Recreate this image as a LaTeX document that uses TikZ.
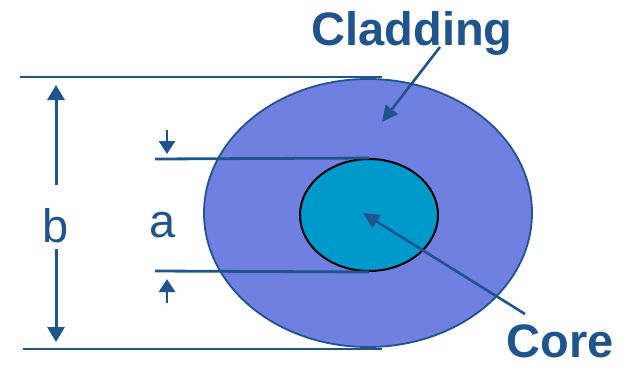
\documentclass[tikz,border=0pt]{standalone}
\usepackage{fontspec}
\setmainfont{Liberation Sans}
\usetikzlibrary{arrows.meta,shapes.geometric}
\definecolor{dblue}{RGB}{31,84,140}
\definecolor{cladfill}{RGB}{111,128,224}
\definecolor{corefill}{RGB}{0,153,204}
\begin{document}
\begin{tikzpicture}[x=0.5pt,y=-0.5pt,
  dimline/.style={draw=dblue, line width=1.4pt},
  bigarrow/.style={draw=dblue, line width=1.5pt, -{Triangle[length=7.5pt,width=8.5pt]}},
  smallarrow/.style={draw=dblue, line width=1.4pt, -{Triangle[length=6.5pt,width=8pt]}},
  callout/.style={draw=dblue, line width=1.3pt, -{Triangle[length=8pt,width=7.5pt]}},
  bigtext/.style={text=dblue, font=\fontsize{23.5pt}{28pt}\selectfont\bfseries, inner sep=0pt, anchor=base},
  dimtext/.style={text=dblue, font=\fontsize{23.5pt}{28pt}\selectfont, inner sep=0pt, anchor=base}]
\useasboundingbox (0,0) rectangle (625,364);
% cladding
\node[ellipse, draw=dblue, line width=0.9pt, fill=cladfill, minimum width=164pt, minimum height=134pt, inner sep=0pt] (clad) at (368,213) {};
\coordinate (corectr) at (369,215);
% dimension lines
\coordinate (btopL) at (20,77);
\coordinate (btopR) at (382,77);
\coordinate (bbotL) at (23,349);
\coordinate (bbotR) at (382,349);
\coordinate (atopL) at (155,159);
\coordinate (abotL) at (155,271);
\draw[dimline] (btopL) -- (btopR);
\draw[dimline] (bbotL) -- (bbotR);
\node[ellipse, draw=black, line width=1pt, fill=corefill, minimum width=69pt, minimum height=56pt, inner sep=0pt] (core) at (corectr) {};
\draw[dimline] (atopL) -- (core.north);
\draw[dimline] (abotL) -- (core.south);
% b dimension
\node[dimtext] (b) at (56,242) {b};
\coordinate (bup0) at (56,185);
\coordinate (bup1) at (56,85);
\coordinate (bdn0) at (56,249);
\coordinate (bdn1) at (56,342);
\draw[bigarrow] (bup0) -- (bup1);
\draw[bigarrow] (bdn0) -- (bdn1);
% a dimension
\node[dimtext] (a) at (163,237) {a};
\coordinate (aup0) at (167,130);
\coordinate (aup1) at (167,154);
\coordinate (adn0) at (167,303);
\coordinate (adn1) at (167,279);
\draw[smallarrow] (aup0) -- (aup1);
\draw[smallarrow] (adn0) -- (adn1);
% labels
\node[bigtext] (cladlabel) at (412,45) {Cladding};
\node[bigtext] (corelabel) at (560,357) {Core};
\coordinate (cladtail) at (440,47);
\coordinate (cladtip) at (382,122);
\coordinate (coretail) at (525,314);
\coordinate (coretip) at (363,213);
\draw[callout] (cladtail) -- (cladtip);
\draw[callout] (coretail) -- (coretip);
\end{tikzpicture}
\end{document}
